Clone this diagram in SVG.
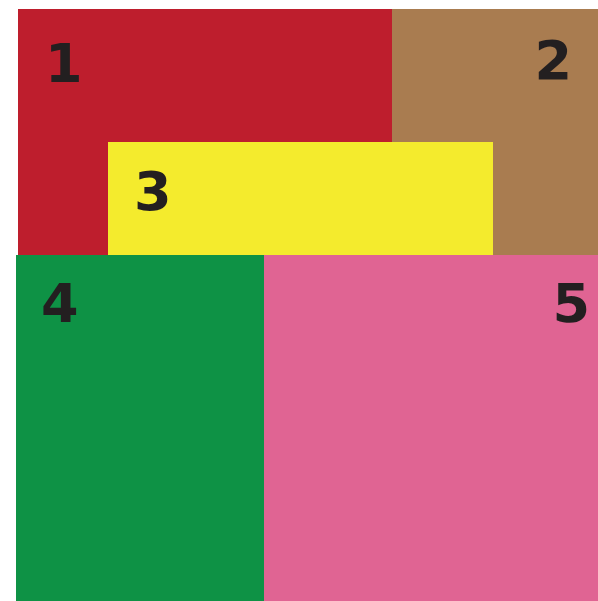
<svg xmlns="http://www.w3.org/2000/svg" width="598" height="601" viewBox="0 0 598 601">
<style>
text{font-family:"DejaVu Sans",sans-serif;font-weight:bold;font-size:54px;fill:#231F20}
</style>
<rect width="598" height="601" fill="#fff"/>
<g id="n1"><rect x="18" y="9" width="374" height="246" fill="#BE1E2D"/><text x="45" y="82">1</text></g>
<g id="n2"><rect x="392" y="9" width="206" height="246" fill="#A97C50"/><text x="572" y="79" text-anchor="end">2</text></g>
<g id="n3"><rect x="108" y="142" width="385" height="113" fill="#F4EB2D"/><text x="134" y="210">3</text></g>
<g id="n4"><rect x="16" y="255" width="248" height="346" fill="#0E9245"/><text x="41" y="322">4</text></g>
<g id="n5"><rect x="264" y="255" width="334" height="346" fill="#E06493"/><text x="590" y="322" text-anchor="end">5</text></g>
<g id="connectors"></g>
</svg>
